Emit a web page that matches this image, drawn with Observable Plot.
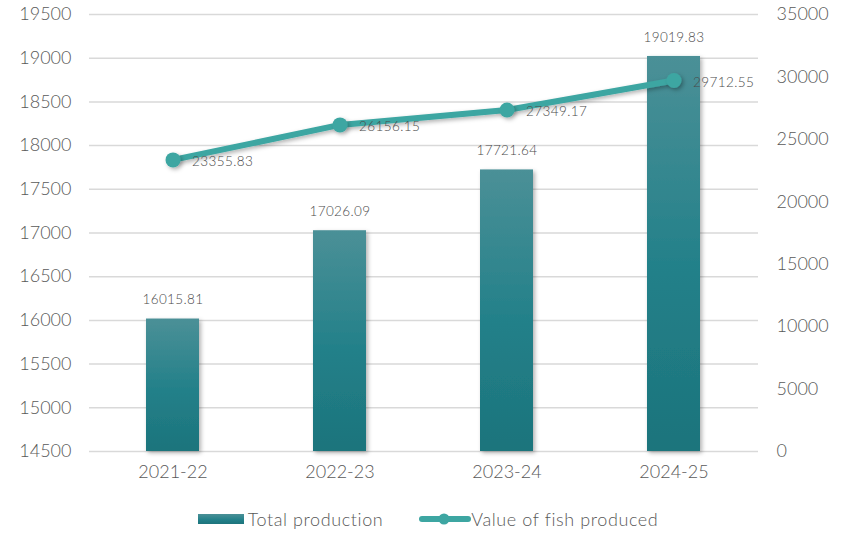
<!DOCTYPE html>
<html>
<head>
<meta charset="utf-8">
<script src="https://cdn.jsdelivr.net/npm/d3@7"></script>
<script src="https://cdn.jsdelivr.net/npm/@observablehq/plot@0.6"></script>
<style>
  html, body { margin: 0; padding: 0; background: #fff; }
  body { width: 856px; height: 533px; overflow: hidden; font-family: Lato, "Open Sans", sans-serif; font-weight: 300; }
  #legend { display: flex; justify-content: center; align-items: center; height: 30px; margin-top: 8px; font-size: 18px; letter-spacing: 0.6px; color: #595959; }
  .item { display: flex; align-items: center; }
  svg text { font-weight: 300; }
  svg g.datalabel text { letter-spacing: 0.4px; }
</style>
</head>
<body>
<div id="chart"></div>
<div id="legend">
  <div class="item" style="margin-right:36px">
    <svg width="50" height="12"><defs><linearGradient id="lg1" x1="0" y1="0" x2="0" y2="1"><stop offset="0" stop-color="#4b9097"/><stop offset="0.6" stop-color="#228089"/><stop offset="1" stop-color="#1d747c"/></linearGradient></defs><rect x="0" y="1" width="46" height="10" fill="url(#lg1)"/></svg>
    <span id="lab1"></span>
  </div>
  <div class="item">
    <svg width="52" height="16"><line x1="3" y1="8" x2="49" y2="8" stroke="#3da6a2" stroke-width="6" stroke-linecap="round"/><circle cx="25" cy="8" r="5.5" fill="#3da6a2"/></svg>
    <span id="lab2"></span>
  </div>
</div>
<script>
const years = ["2021-22", "2022-23", "2023-24", "2024-25"];
const totalProduction = [16015.81, 17026.09, 17721.64, 19019.83];
const valueOfFish = [23355.83, 26156.15, 27349.17, 29712.55];
const seriesNames = ["Total production", "Value of fish produced"];
const leftTicks = [14500, 15000, 15500, 16000, 16500, 17000, 17500, 18000, 18500, 19000, 19500];
const rightTicks = [0, 5000, 10000, 15000, 20000, 25000, 30000, 35000];

document.getElementById("lab1").textContent = seriesNames[0];
document.getElementById("lab2").textContent = seriesNames[1];

const L0 = 14500, L1 = 19500, R0 = 0, R1 = 35000;
const toLeft = v => L0 + (v - R0) / (R1 - R0) * (L1 - L0);
const fromLeft = y => R0 + (y - L0) / (L1 - L0) * (R1 - R0);

const bars = years.map((y, i) => ({year: y, value: totalProduction[i]}));
const line = years.map((y, i) => ({year: y, value: valueOfFish[i], ly: toLeft(valueOfFish[i])}));

const textColor = "#595959";
const labelColor = "#4a4a4a";

const svg = Plot.plot({
  width: 856,
  height: 496,
  marginTop: 14,
  marginBottom: 45,
  marginLeft: 89,
  marginRight: 98,
  style: {fontFamily: "Lato, 'Open Sans', sans-serif", color: textColor, background: "#fff"},
  x: {domain: years, paddingInner: 0.68, paddingOuter: 0.34, label: null},
  y: {domain: [L0, L1], label: null},
  marks: [
    Plot.ruleY(leftTicks, {stroke: "#d9d9d9", strokeWidth: 1.5}),
    Plot.axisY({ticks: leftTicks, tickSize: 0, tickPadding: 18, fontSize: 18, label: null, tickFormat: d => String(d), fill: textColor}),
    Plot.axisY({anchor: "right", ticks: rightTicks.map(toLeft), tickSize: 0, tickPadding: 18, fontSize: 18, label: null, tickFormat: d => String(Math.round(fromLeft(d))), fill: textColor}),
    Plot.axisX({tickSize: 0, tickPadding: 14, fontSize: 18, label: null, fill: textColor}),
    Plot.barY(bars, {x: "year", y1: L0, y2: "value", fill: "url(#barGrad)"}),
    Plot.text(bars, {x: "year", y: "value", text: d => d.value.toFixed(2), dy: -19, fontSize: 13.5, fill: labelColor}),
    Plot.line(line, {x: "year", y: "ly", stroke: "#3da6a2", strokeWidth: 6}),
    Plot.dot(line, {x: "year", y: "ly", r: 7.5, fill: "#3da6a2"}),
    Plot.text(line, {x: "year", y: "ly", text: d => d.value.toFixed(2), dx: 19, dy: 2, textAnchor: "start", fontSize: 13.5, fill: labelColor})
  ]
});

const s = d3.select(svg);
const defs = s.insert("defs", ":first-child");
const g = defs.append("linearGradient").attr("id", "barGrad").attr("x1", 0).attr("y1", 0).attr("x2", 0).attr("y2", 1);
g.append("stop").attr("offset", 0).attr("stop-color", "#4b9097");
g.append("stop").attr("offset", 0.55).attr("stop-color", "#228089");
g.append("stop").attr("offset", 1).attr("stop-color", "#1d747c");
const f = defs.append("filter").attr("id", "shadow").attr("x", "-20%").attr("y", "-20%").attr("width", "150%").attr("height", "150%");
f.append("feDropShadow").attr("dx", 2).attr("dy", 2).attr("stdDeviation", 2).attr("flood-color", "#000").attr("flood-opacity", 0.3);
s.selectAll("g[aria-label='bar'] rect").attr("filter", "url(#shadow)");
s.select("g[aria-label='line']").attr("filter", "url(#shadow)");
s.select("g[aria-label='dot']").attr("filter", "url(#shadow)");
s.selectAll("g[aria-label='text']").classed("datalabel", true);

document.getElementById("chart").appendChild(svg);
</script>
</body>
</html>
